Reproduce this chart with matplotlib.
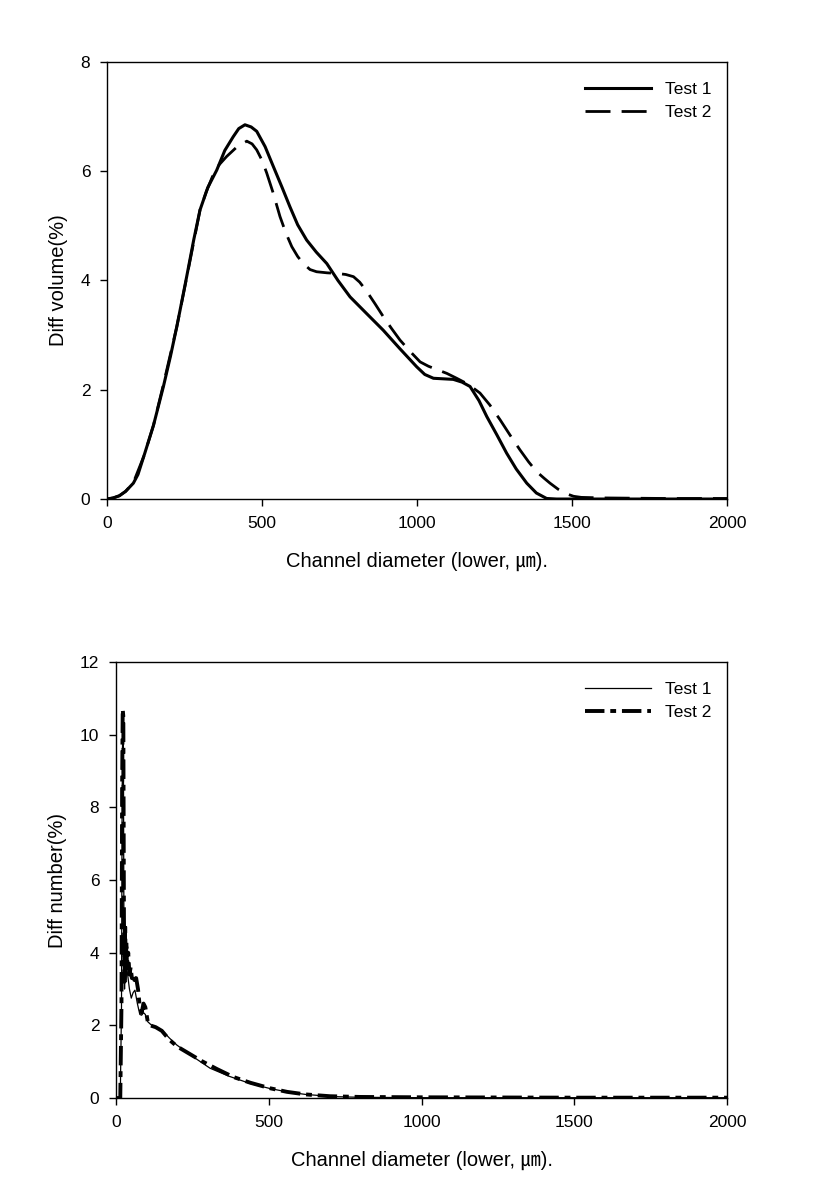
import matplotlib
matplotlib.use('Agg')
import matplotlib.pyplot as plt
from matplotlib.lines import Line2D

plt.rcParams['font.family'] = ['Liberation Sans', 'Noto Sans CJK KR', 'DejaVu Sans']

# upper panel: differential volume
vol_x1 = [0, 20, 40, 60, 85, 100, 122, 150, 182, 205, 225, 240, 257, 280, 300, 325, 354,
          380, 407, 425, 445, 465, 483, 510, 537, 565, 590, 615, 644, 675, 709, 745, 784,
          840, 891, 945, 999, 1025, 1053, 1085, 1117, 1145, 1171, 1200, 1225, 1258, 1289,
          1320, 1354, 1385, 1418, 1450, 2000]
vol_y1 = [0, 0.02, 0.06, 0.14, 0.29, 0.45, 0.84, 1.35, 2.06, 2.62, 3.15, 3.58, 4.07, 4.75,
          5.29, 5.70, 6.02, 6.38, 6.63, 6.78, 6.85, 6.81, 6.73, 6.45, 6.08, 5.70, 5.35,
          5.02, 4.74, 4.52, 4.31, 4.00, 3.70, 3.38, 3.09, 2.75, 2.42, 2.28, 2.21, 2.20,
          2.19, 2.14, 2.06, 1.80, 1.51, 1.17, 0.84, 0.55, 0.29, 0.11, 0.01, 0.0, 0.0]
vol_x2 = [0, 20, 40, 60, 85, 120, 150, 180, 225, 257, 300, 320, 340, 362, 386, 420, 451,
          468, 483, 500, 515, 535, 558, 577, 596, 615, 633, 655, 676, 710, 741, 770, 795,
          815, 838, 865, 891, 918, 945, 978, 1010, 1037, 1064, 1096, 1128, 1165, 1203,
          1235, 1268, 1300, 1332, 1360, 1386, 1410, 1429, 1455, 1480, 1505, 1530, 1600,
          1800, 2000]
vol_y2 = [0, 0.02, 0.06, 0.14, 0.30, 0.80, 1.35, 2.05, 3.15, 4.05, 5.29, 5.62, 5.90, 6.12,
          6.27, 6.45, 6.55, 6.50, 6.39, 6.20, 5.97, 5.62, 5.17, 4.87, 4.62, 4.44, 4.31,
          4.20, 4.16, 4.14, 4.13, 4.11, 4.07, 3.97, 3.80, 3.57, 3.34, 3.12, 2.91, 2.70,
          2.51, 2.43, 2.37, 2.30, 2.21, 2.10, 1.94, 1.72, 1.45, 1.17, 0.90, 0.68, 0.50,
          0.38, 0.29, 0.18, 0.10, 0.05, 0.03, 0.02, 0.01, 0.01]

# lower panel: differential number
num_x1 = [0, 14, 18, 20, 22, 24, 26, 28, 30, 32, 34, 38, 44, 50, 56, 62, 70, 78, 84, 90,
          96, 104, 117, 130, 150, 175, 199, 250, 308, 370, 439, 500, 559, 620, 710, 800,
          1000, 1500, 2000]
num_y1 = [0, 0, 2.5, 8.0, 10.4, 10.2, 4.6, 3.0, 4.2, 3.2, 3.6, 3.4, 3.0, 2.75, 2.9, 2.97,
          2.6, 2.3, 2.28, 2.35, 2.3, 2.1, 2.0, 1.95, 1.87, 1.65, 1.46, 1.15, 0.82, 0.6,
          0.40, 0.27, 0.17, 0.10, 0.04, 0.02, 0.01, 0.01, 0.01]
num_x2 = [0, 14, 18, 20, 22, 24, 26, 28, 30, 32, 34, 36, 40, 44, 48, 52, 56, 60, 66, 72,
          78, 84, 90, 96, 104, 112, 130, 150, 175, 200, 240, 280, 330, 384, 440, 504, 560,
          620, 700, 800, 1000, 1500, 2000]
num_y2 = [0, 0, 2.6, 8.5, 10.7, 10.5, 5.0, 3.2, 4.8, 3.5, 4.3, 3.6, 4.0, 3.4, 3.6, 3.3,
          3.4, 3.25, 3.3, 3.0, 2.5, 2.35, 2.6, 2.5, 2.1, 2.0, 1.95, 1.85, 1.6, 1.42, 1.22,
          1.02, 0.8, 0.58, 0.42, 0.27, 0.17, 0.1, 0.05, 0.03, 0.02, 0.01, 0.01]

labels = ['Test 1', 'Test 2']
x_ticks = [0, 500, 1000, 1500, 2000]
xlabel = 'Channel diameter (lower, ㎛).'

FS = 12.5
LFS = 14.5


def style_axes(ax, yticks, ylabel):
	ax.set_xlim(0, 2000)
	ax.set_ylim(yticks[0], yticks[-1])
	ax.set_xticks(x_ticks)
	ax.set_yticks(yticks)
	ax.tick_params(direction='out', length=5, width=1, labelsize=FS, top=False, right=False,
				   pad=7)
	for s in ax.spines.values():
		s.set_linewidth(1)
	ax.set_xlabel(xlabel, fontsize=LFS, labelpad=15)
	ax.set_ylabel(ylabel, fontsize=LFS, labelpad=9)


fig = plt.figure(figsize=(8.18, 11.89), dpi=100)

ax1 = fig.add_axes([0.1308, 0.5803, 0.758, 0.3676])
ax1.plot(vol_x1, vol_y1, color='black', lw=2.2, solid_joinstyle='round')
ax1.plot(vol_x2, vol_y2, color='black', lw=2.0, dashes=[9, 4])
style_axes(ax1, [0, 2, 4, 6, 8], 'Diff volume(%)')
h1 = [Line2D([], [], color='black', lw=2.2),
	  Line2D([], [], color='black', lw=2.0, dashes=[9, 4])]
ax1.legend(h1, labels, loc='upper right', frameon=False, fontsize=FS,
		   handlelength=3.8, bbox_to_anchor=(1.0, 0.99), labelspacing=0.45,
		   handletextpad=0.8)

ax2 = fig.add_axes([0.1418, 0.0765, 0.747, 0.3667])
ax2.plot(num_x1, num_y1, color='black', lw=0.9)
ax2.plot(num_x2, num_y2, color='black', lw=2.8, dashes=[5, 1.5, 1.5, 1.5])
style_axes(ax2, [0, 2, 4, 6, 8, 10, 12], 'Diff number(%)')
h2 = [Line2D([], [], color='black', lw=0.9),
	  Line2D([], [], color='black', lw=2.8, dashes=[5, 1.5, 1.5, 1.5])]
ax2.legend(h2, labels, loc='upper right', frameon=False, fontsize=FS,
		   handlelength=3.8, bbox_to_anchor=(1.0, 0.99), labelspacing=0.45,
		   handletextpad=0.8)

fig.savefig('out.png', dpi=100)
